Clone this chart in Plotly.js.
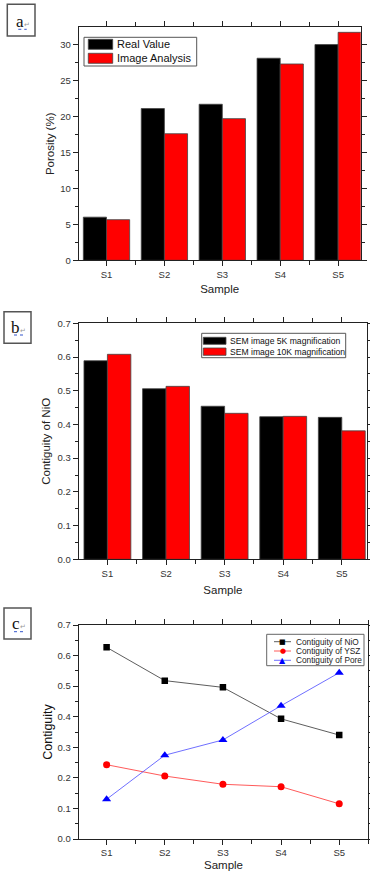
<!DOCTYPE html>
<html>
<head>
<meta charset="utf-8">
<script src="https://cdn.plot.ly/plotly-3.0.1.min.js"></script>
<style>
  html, body { margin: 0; padding: 0; background: #fff; }
  #chart { width: 370px; height: 871px; }
</style>
</head>
<body>
<div id="chart"></div>
<script>
// ---------- data ----------
const categories = ['S1', 'S2', 'S3', 'S4', 'S5'];

// panel a: porosity (%)
const porosityNames = ['Real Value', 'Image Analysis'];
const porosityReal = [6.0, 21.1, 21.7, 28.1, 30.0];
const porosityImage = [5.65, 17.6, 19.7, 27.3, 31.7];

// panel b: contiguity of NiO
const semNames = ['SEM image 5K magnification', 'SEM image 10K magnification'];
const nio5K = [0.589, 0.506, 0.454, 0.423, 0.421];
const nio10K = [0.608, 0.513, 0.433, 0.424, 0.381];

// panel c: contiguity of phases
const phaseNames = ['Contiguity of NiO', 'Contiguity of YSZ', 'Contiguity of Pore'];
const contNiO = [0.627, 0.518, 0.496, 0.393, 0.340];
const contYSZ = [0.243, 0.206, 0.179, 0.171, 0.115];
const contPore = [0.130, 0.274, 0.324, 0.436, 0.544];

const panelLabels = ['a', 'b', 'c'];

// ---------- helpers ----------
const W = 370, H = 871;
const fx = v => v / W;
const fy = v => 1 - v / H;
const xIdx = categories.map((_, i) => i);
const FONT = 'Liberation Sans, Arial, sans-serif';
const TICKFONT = {family: FONT, size: 9.5, color: '#333'};
const TITLEFONT = {family: FONT, size: 11.5, color: '#222'};

function xAxis(dom, anchor, range, titleStandoff) {
  return {
    domain: dom, anchor: anchor, range: range,
    tickmode: 'array', tickvals: xIdx, ticktext: categories,
    ticks: 'outside', ticklen: 5, tickwidth: 1, tickcolor: '#222',
    minor: {tickmode: 'linear', tick0: 0.5, dtick: 1, ticks: 'outside', ticklen: 4, tickcolor: '#222'},
    showline: true, linecolor: '#222', linewidth: 1, mirror: 'allticks',
    showgrid: false, zeroline: false, tickfont: TICKFONT,
    title: {text: 'Sample', font: TITLEFONT, standoff: titleStandoff}
  };
}
function yAxis(dom, anchor, range, dtick, minorDtick, fmt, title, tfont, standoff) {
  return {
    domain: dom, anchor: anchor, range: range,
    tickmode: 'linear', tick0: 0, dtick: dtick, tickformat: fmt,
    ticks: 'outside', ticklen: 5, tickwidth: 1, tickcolor: '#222',
    minor: {dtick: minorDtick, ticks: 'outside', ticklen: 3, tickcolor: '#222'},
    showline: true, linecolor: '#222', linewidth: 1, mirror: 'allticks',
    showgrid: false, zeroline: false, tickfont: TICKFONT,
    title: {text: title, font: tfont, standoff: standoff}
  };
}

const barLine = {color: '#444', width: 0.8};
const barColors = ['#000000', '#ff0000'];

const traces = [
  {type: 'bar', x: xIdx, y: porosityReal, name: porosityNames[0], xaxis: 'x', yaxis: 'y',
   marker: {color: barColors[0], line: barLine}},
  {type: 'bar', x: xIdx, y: porosityImage, name: porosityNames[1], xaxis: 'x', yaxis: 'y',
   marker: {color: barColors[1], line: barLine}},
  {type: 'bar', x: xIdx, y: nio5K, name: semNames[0], xaxis: 'x2', yaxis: 'y2',
   marker: {color: barColors[0], line: barLine}},
  {type: 'bar', x: xIdx, y: nio10K, name: semNames[1], xaxis: 'x2', yaxis: 'y2',
   marker: {color: barColors[1], line: barLine}},
  {type: 'scatter', mode: 'lines+markers', x: xIdx, y: contNiO, name: phaseNames[0], xaxis: 'x3', yaxis: 'y3',
   line: {color: '#333', width: 0.8}, marker: {symbol: 'square', size: 6.5, color: '#000'}},
  {type: 'scatter', mode: 'lines+markers', x: xIdx, y: contYSZ, name: phaseNames[1], xaxis: 'x3', yaxis: 'y3',
   line: {color: '#ff3030', width: 0.8}, marker: {symbol: 'circle', size: 7, color: '#ff0000'}},
  {type: 'scatter', mode: 'lines+markers', x: xIdx, y: contPore, name: phaseNames[2], xaxis: 'x3', yaxis: 'y3',
   line: {color: '#4a4aff', width: 0.8}, marker: {symbol: 'triangle-up', size: 8, color: '#0000ff'}}
];

const shapes = [];
const annotations = [];

// panel label boxes
const labelBoxes = [
  {x0: 7.3, y0: 4.3, x1: 35, y1: 36, tx: 22.5, ty: 22, ux0: 18.3, ux1: 26.7, uy: 29.3},
  {x0: 4, y0: 311.7, x1: 31, y1: 343.3, tx: 18, ty: 327.5, ux0: 14, ux1: 23.5, uy: 335},
  {x0: 4, y0: 608, x1: 31, y1: 639, tx: 18.5, ty: 623.5, ux0: 14, ux1: 23.3, uy: 631.7}
];
labelBoxes.forEach((b, i) => {
  shapes.push({type: 'rect', xref: 'paper', yref: 'paper', x0: fx(b.x0), x1: fx(b.x1), y0: fy(b.y0), y1: fy(b.y1),
    line: {color: '#555', width: 1.5}, fillcolor: 'rgba(0,0,0,0)'});
  shapes.push({type: 'line', xref: 'paper', yref: 'paper', x0: fx(b.ux0), x1: fx(b.ux1), y0: fy(b.uy), y1: fy(b.uy),
    line: {color: '#3355cc', width: 1, dash: 'dot'}});
  annotations.push({xref: 'paper', yref: 'paper', x: fx(b.tx), y: fy(b.ty), xanchor: 'center', yanchor: 'middle',
    showarrow: false, text: panelLabels[i] + '<span style="font-size:7px;color:#999">\u21B5</span>',
    font: {family: 'Liberation Serif, Times New Roman, serif', size: 17, color: '#111'}});
});

// compact bar legends (panels a and b)
function barLegend(box, sw, textX, rows, names, fsize) {
  shapes.push({type: 'rect', xref: 'paper', yref: 'paper', x0: fx(box[0]), x1: fx(box[2]),
    y0: fy(box[1]), y1: fy(box[3]), line: {color: '#555', width: 1}, fillcolor: '#fff'});
  names.forEach((n, i) => {
    const r = rows[i];
    shapes.push({type: 'rect', xref: 'paper', yref: 'paper', x0: fx(sw[0]), x1: fx(sw[1]),
      y0: fy(r[0]), y1: fy(r[1]), line: {color: '#444', width: 0.8}, fillcolor: barColors[i]});
    annotations.push({xref: 'paper', yref: 'paper', x: fx(textX), y: fy((r[0] + r[1]) / 2),
      xanchor: 'left', yanchor: 'middle', showarrow: false, text: n,
      font: {family: FONT, size: fsize, color: '#111'}});
  });
}
barLegend([84, 37.3, 196.7, 66], [88.3, 112.7], 114.5, [[39.3, 49.3], [53.3, 63.3]], porosityNames, 11);
barLegend([201.7, 333.3, 345.7, 357.7], [203.3, 226], 227.5, [[337.3, 344.3], [348, 355.3]], semNames, 8.6);

// panel c legend
const legendC = {x0: 266.7, y0: 634.3, x1: 364, y1: 665.7, rows: [641.7, 651, 660.3]};
const legCColors = ['#000', '#ff0000', '#0000ff'];
const legCLine = ['#333', '#ff3030', '#4a4aff'];
const legCGlyph = ['\u25A0', '\u25CF', '\u25B2'];
shapes.push({type: 'rect', xref: 'paper', yref: 'paper', x0: fx(legendC.x0), x1: fx(legendC.x1),
  y0: fy(legendC.y0), y1: fy(legendC.y1), line: {color: '#666', width: 1}, fillcolor: '#fff'});
phaseNames.forEach((n, i) => {
  const yy = legendC.rows[i];
  shapes.push({type: 'line', xref: 'paper', yref: 'paper', x0: fx(274), x1: fx(291), y0: fy(yy), y1: fy(yy),
    line: {color: legCLine[i], width: 0.8}});
  annotations.push({xref: 'paper', yref: 'paper', x: fx(282.5), y: fy(yy), xanchor: 'center', yanchor: 'middle',
    showarrow: false, text: legCGlyph[i], font: {family: 'DejaVu Sans', size: i === 2 ? 8 : 7, color: legCColors[i]}});
  annotations.push({xref: 'paper', yref: 'paper', x: fx(293.5), y: fy(yy), xanchor: 'left', yanchor: 'middle',
    showarrow: false, text: n, font: {family: FONT, size: 8.3, color: '#222'}});
});

const layout = {
  width: W, height: H,
  margin: {l: 0, r: 0, t: 0, b: 0},
  paper_bgcolor: '#fff', plot_bgcolor: '#fff',
  barmode: 'group', bargap: 0.2, bargroupgap: 0,
  font: {family: FONT, color: '#222'},
  showlegend: false,
  xaxis: xAxis([fx(78.7), fx(360.7)], 'y', [-0.48, 4.39], 6),
  yaxis: yAxis([fy(260.3), fy(27.3)], 'x', [0, 32.4], 5, 2.5, 'd', 'Porosity (%)', TITLEFONT, 3),
  xaxis2: xAxis([fx(78.7), fx(367)], 'y2', [-0.49, 4.43], 8),
  yaxis2: yAxis([fy(559.3), fy(323.3)], 'x2', [0, 0.7], 0.1, 0.05, '.1f', 'Contiguity of NiO', TITLEFONT, 4),
  xaxis3: xAxis([fx(78.7), fx(368.3)], 'y3', [-0.48, 4.5], 10),
  yaxis3: yAxis([fy(839), fy(625)], 'x3', [0, 0.7], 0.1, 0.05, '.1f', 'Contiguity',
    {family: FONT, size: 12.5, color: '#111'}, 2),
  shapes: shapes,
  annotations: annotations
};

Plotly.newPlot('chart', traces, layout, {staticPlot: true, displayModeBar: false});
</script>
</body>
</html>
